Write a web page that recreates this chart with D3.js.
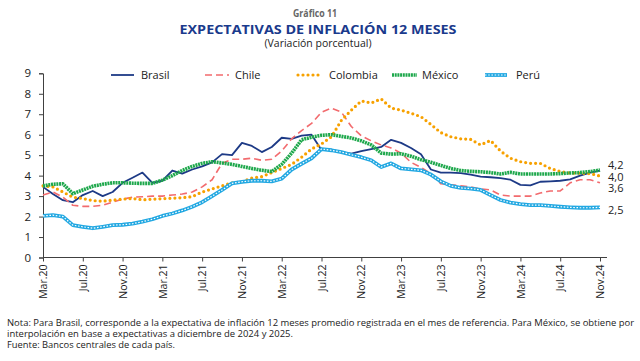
<!DOCTYPE html>
<html lang="es">
<head>
<meta charset="utf-8">
<script src="https://cdn.jsdelivr.net/npm/d3@7"></script>
<style>
  html, body { margin: 0; padding: 0; background: #ffffff; }
  svg { display: block; font-family: "Open Sans", "Noto Sans", sans-serif; }
</style>
</head>
<body>
<div id="chart"></div>
<script>
// ---------- datos ----------
const monthNames = ["Ene", "Feb", "Mar", "Abr", "May", "Jun", "Jul", "Ago", "Sep", "Oct", "Nov", "Dic"];
const months = [];
for (let k = 0; k < 57; k++) {
  const m = (2 + k) % 12;
  const yr = 20 + Math.floor((2 + k) / 12);
  months.push(monthNames[m] + "." + yr);
}

const tickLabels = ["Mar.20", "Jul.20", "Nov.20", "Mar.21", "Jul.21", "Nov.21", "Mar.22", "Jul.22",
  "Nov.22", "Mar.23", "Jul.23", "Nov.23", "Mar.24", "Jul.24", "Nov.24"];
const yTicks = [0, 1, 2, 3, 4, 5, 6, 7, 8, 9];

const brasil = [3.45, 3.1, 2.8, 2.7, 3.05, 3.25, 3.0, 3.2, 3.65, 3.9,
  4.15, 3.65, 3.75, 4.25, 4.1, 4.3, 4.45, 4.65, 5.05, 5.0,
  5.6, 5.45, 5.15, 5.4, 5.85, 5.8, 5.95, 6.0, 5.25, 5.27,
  5.15, 5.07, 5.2, 5.3, 5.4, 5.75, 5.6, 5.35, 5.05, 4.3,
  4.15, 4.15, 4.12, 4.05, 3.95, 3.92, 3.88, 3.8, 3.55, 3.52,
  3.7, 3.72, 3.75, 3.82, 4.0, 4.15, 4.25];

const chile = [3.05, 3.2, 2.95, 2.55, 2.5, 2.5, 2.55, 2.7, 2.85, 2.95,
  2.97, 3.0, 3.0, 3.05, 3.1, 3.2, 3.45, 3.8, 4.6, 4.8,
  4.8, 4.85, 4.75, 4.8, 5.2, 5.8, 6.2, 6.55, 7.1, 7.3,
  7.1, 6.4, 5.95, 5.7, 5.5, 5.35, 5.1, 4.65, 4.4, 4.1,
  3.6, 3.55, 3.5, 3.45, 3.35, 3.3, 3.05, 3.0, 3.0, 3.0,
  3.15, 3.25, 3.25, 3.65, 3.8, 3.8, 3.65];

const colombia = [3.5, 3.45, 3.2, 2.95, 2.88, 2.78, 2.75, 2.8, 2.85, 2.88,
  2.82, 2.85, 2.87, 2.9, 2.92, 2.97, 3.2, 3.35, 3.5, 3.65,
  3.7, 3.88, 3.95, 4.15, 4.35, 4.55, 4.9, 5.3, 5.55, 5.9,
  6.7, 7.2, 7.65, 7.55, 7.75, 7.3, 7.2, 7.05, 6.88, 6.5,
  6.1, 5.9, 5.8, 5.77, 5.5, 5.72, 5.2, 4.85, 4.68, 4.6,
  4.6, 4.35, 4.2, 4.12, 4.12, 4.1, 3.98];

const mexico = [3.5, 3.58, 3.6, 3.12, 3.3, 3.48, 3.58, 3.65, 3.65, 3.63,
  3.62, 3.62, 3.78, 4.0, 4.25, 4.45, 4.6, 4.68, 4.62, 4.55,
  4.45, 4.35, 4.26, 4.2, 4.55, 5.1, 5.75, 5.88, 5.97, 6.0,
  5.92, 5.84, 5.7, 5.5, 5.1, 5.05, 5.07, 4.95, 4.78, 4.65,
  4.5, 4.35, 4.25, 4.21, 4.19, 4.15, 4.08, 4.16, 4.08, 4.08,
  4.08, 4.08, 4.1, 4.13, 4.15, 4.2, 4.27];

const peru = [2.03, 2.07, 2.0, 1.58, 1.5, 1.43, 1.5, 1.58, 1.6, 1.65,
  1.75, 1.87, 2.03, 2.15, 2.3, 2.48, 2.7, 3.0, 3.3, 3.62,
  3.7, 3.75, 3.75, 3.72, 3.85, 4.3, 4.58, 4.85, 5.3, 5.24,
  5.15, 5.02, 4.9, 4.75, 4.42, 4.6, 4.35, 4.31, 4.26, 4.05,
  3.72, 3.5, 3.4, 3.37, 3.3, 3.05, 2.81, 2.68, 2.61, 2.56,
  2.56, 2.52, 2.48, 2.45, 2.43, 2.43, 2.45];

const endLabels = ["4,2", "4,0", "3,6", "2,5"];

const notes = [
  "Nota: Para Brasil, corresponde a la expectativa de inflación 12 meses promedio registrada en el mes de referencia. Para México, se obtiene por",
  "interpolación en base a expectativas a diciembre de 2024 y 2025.",
  "Fuente: Bancos centrales de cada país."
];

// ---------- estilos de series ----------
const series = [
  { name: "Brasil", values: brasil, color: "#1d3a86", width: 1.8, dash: null },
  { name: "Chile", values: chile, color: "#f26b6e", width: 1.6, dash: "7,4" },
  { name: "Colombia", values: colombia, color: "#f7a100", width: 3.2, dash: "0,5", cap: "round" },
  { name: "México", values: mexico, color: "#1ea84c", width: 3.6, dash: "2,0.7" },
  { name: "Perú", values: peru, color: "#22a8e2", width: 3.8, dash: null, hollow: true }
];

// ---------- svg ----------
const width = 640, height = 361;
const svg = d3.select("#chart")
  .append("svg")
  .attr("width", width)
  .attr("height", height);

const x = d3.scalePoint().domain(months).range([43, 600]);
const y = d3.scaleLinear().domain([0, 9]).range([257.5, 73.3]);

// titulos
svg.append("text")
  .attr("x", 315).attr("y", 16.5)
  .attr("text-anchor", "middle")
  .attr("fill", "#666666")
  .attr("font-size", 10).attr("font-weight", 700)
  .attr("textLength", 44).attr("lengthAdjust", "spacingAndGlyphs")
  .text("Gráfico 11");

svg.append("text")
  .attr("x", 318).attr("y", 33.5)
  .attr("text-anchor", "middle")
  .attr("fill", "#1a3a8c")
  .attr("font-size", 12.5).attr("font-weight", 700)
  .attr("textLength", 277).attr("lengthAdjust", "spacingAndGlyphs")
  .text("EXPECTATIVAS DE INFLACIÓN 12 MESES");

svg.append("text")
  .attr("x", 318).attr("y", 46.5)
  .attr("text-anchor", "middle")
  .attr("fill", "#222222")
  .attr("font-size", 10)
  .attr("textLength", 107).attr("lengthAdjust", "spacingAndGlyphs")
  .text("(Variación porcentual)");

// ejes
const yAxis = svg.append("g")
  .attr("transform", "translate(43,0)")
  .call(d3.axisLeft(y).tickValues(yTicks).tickSize(4).tickPadding(8));

yAxis.select(".domain").attr("stroke", "#404040");
yAxis.selectAll(".tick line").attr("stroke", "#404040");
yAxis.selectAll(".tick text")
  .attr("font-size", 11.5)
  .attr("fill", "#222222")
  .attr("font-family", "\"Open Sans\", sans-serif");

const xAxis = svg.append("g")
  .attr("transform", "translate(0,257.5)")
  .call(d3.axisBottom(x).tickValues(tickLabels).tickSize(4).tickSizeOuter(0));

xAxis.select(".domain").attr("d", "M43,0H607").attr("stroke", "#404040");
xAxis.selectAll(".tick line").attr("stroke", "#404040");
xAxis.selectAll(".tick text")
  .attr("font-size", 10.5)
  .attr("fill", "#222222")
  .attr("font-family", "\"Open Sans\", sans-serif")
  .attr("transform", "rotate(-90)")
  .attr("text-anchor", "end")
  .attr("dy", "0.35em")
  .attr("x", -7)
  .attr("y", 0);

// lineas
const line = d3.line()
  .x((d, i) => x(months[i]))
  .y((d) => y(d));

const linesG = svg.append("g");

series.forEach(function (s) {
  const p = linesG.append("path")
    .datum(s.values)
    .attr("d", line)
    .attr("fill", "none")
    .attr("stroke", s.color)
    .attr("stroke-width", s.width)
    .attr("stroke-linejoin", "round");
  if (s.dash) p.attr("stroke-dasharray", s.dash);
  if (s.cap) p.attr("stroke-linecap", s.cap);
  if (s.hollow) {
    linesG.append("path")
      .datum(s.values)
      .attr("d", line)
      .attr("fill", "none")
      .attr("stroke", "#ffffff")
      .attr("stroke-width", 1.2)
      .attr("stroke-dasharray", "1.6,1.6");
  }
});

// leyenda
const legendPos = [
  { x1: 111, x2: 134, tx: 141 },
  { x1: 205, x2: 229, tx: 235 },
  { x1: 298, x2: 323, tx: 329 },
  { x1: 392, x2: 417, tx: 422 },
  { x1: 485, x2: 507, tx: 516 }
];

const legend = svg.append("g");
series.forEach(function (s, i) {
  const lp = legendPos[i];
  const l = legend.append("line")
    .attr("x1", lp.x1).attr("x2", lp.x2)
    .attr("y1", 75).attr("y2", 75)
    .attr("stroke", s.color)
    .attr("stroke-width", s.width);
  if (s.dash) l.attr("stroke-dasharray", s.dash);
  if (s.cap) l.attr("stroke-linecap", s.cap);
  if (s.hollow) {
    legend.append("line")
      .attr("x1", lp.x1).attr("x2", lp.x2)
      .attr("y1", 75).attr("y2", 75)
      .attr("stroke", "#ffffff")
      .attr("stroke-width", 1.2)
      .attr("stroke-dasharray", "1.6,1.6");
  }
  legend.append("text")
    .attr("x", lp.tx).attr("y", 75)
    .attr("dy", "0.35em")
    .attr("font-size", 11)
    .attr("fill", "#222222")
    .text(s.name);
});

// etiquetas finales
svg.append("g")
  .selectAll("text")
  .data(endLabels)
  .enter()
  .append("text")
  .attr("x", 608)
  .attr("y", (d, i) => [165.5, 177, 188.5, 210][i])
  .attr("dy", "0.35em")
  .attr("font-size", 11)
  .attr("fill", "#222222")
  .text((d) => d);

// notas
const noteLen = [627, 286, 168];
svg.append("g")
  .selectAll("text")
  .data(notes)
  .enter()
  .append("text")
  .attr("x", 7)
  .attr("y", (d, i) => 325.5 + i * 11)
  .attr("font-size", 9.5)
  .attr("fill", "#222222")
  .attr("textLength", (d, i) => noteLen[i])
  .attr("lengthAdjust", "spacingAndGlyphs")
  .text((d) => d);
</script>
</body>
</html>
